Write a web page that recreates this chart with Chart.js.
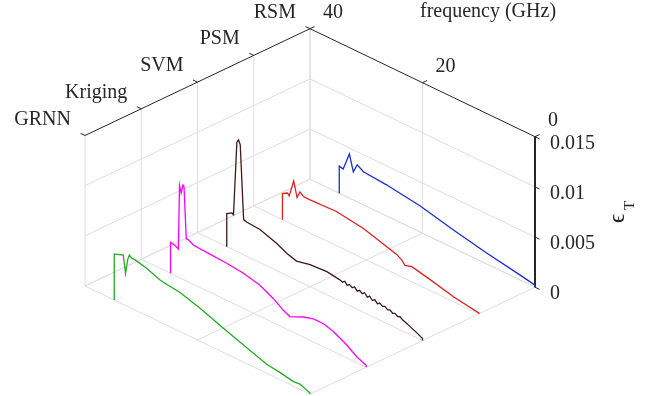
<!DOCTYPE html>
<html>
<head>
<meta charset="utf-8">
<script src="https://cdn.jsdelivr.net/npm/chart.js@4.4.1/dist/chart.umd.min.js"></script>
<style>
  html, body { margin: 0; padding: 0; background: #fff; }
  #wrap { width: 657px; height: 396px; }
</style>
</head>
<body>
<div id="wrap"><canvas id="chart"></canvas></div>
<script>
// categories and ticks
const methods = ['GRNN', 'Kriging', 'SVM', 'PSM', 'RSM'];
const freqTicks = [0, 20, 40];
const errTicks = [0, 0.005, 0.01, 0.015];

// one curve per method, frequency in GHz and error eps_T
const grnnFreq = [34.8, 33.2, 32.8, 32.4, 32.1, 31.7, 31.1, 29.0, 26.7, 25.8, 23.1, 19.6, 17.2, 15.4, 11.3, 7.7, 5.3, 3.0, 1.8, 0];
const grnnErr  = [0.0046, 0.0049, 0.0032, 0.0047, 0.0052, 0.0050, 0.0050, 0.0047, 0.0042, 0.0041, 0.0039, 0.0033, 0.0028, 0.0024, 0.0016, 0.0009, 0.0007, 0.00045, 0.0005, 0.0001];

const krigFreq = [34.8, 34.0, 33.4, 33.2, 32.9, 32.6, 32.4, 32.0, 31.6, 30.7, 27.8, 24.8, 21.9, 18.9, 16.5, 14.7, 13.9, 13.6, 11.2, 9.4, 7.6, 5.9, 3.5, 1.7, 0];
const krigErr  = [0.0031, 0.0030, 0.0028, 0.0092, 0.0085, 0.0094, 0.0093, 0.0042, 0.0042, 0.0039, 0.0038, 0.0037, 0.0035, 0.0031, 0.0024, 0.0017, 0.0015, 0.0014, 0.0020, 0.0023, 0.0023, 0.0020, 0.0013, 0.0006, 0.0002];

const svmFreq = [34.8, 33.9, 33.6, 33.0, 32.7, 32.4, 31.8, 31.2, 28.9, 25.9, 24.1, 22.4, 20.0, 17.0, 14.7, 14.2, 13.8, 13.4, 13.0, 12.5, 12.1, 11.6, 11.2, 10.7, 10.3, 9.8, 9.4, 8.9, 8.5, 8.0, 7.6, 7.1, 6.7, 6.2, 5.8, 5.3, 4.9, 4.4, 4.0, 3.5, 3.0, 2.2, 1.0, 0];
const svmErr  = [0.0033, 0.0036, 0.0035, 0.0109, 0.0112, 0.0108, 0.0035, 0.0034, 0.0033, 0.0027, 0.0022, 0.0019, 0.0022, 0.0023, 0.0021, 0.0020, 0.0022, 0.0019, 0.0021, 0.0019, 0.0021, 0.0018, 0.0020, 0.0018, 0.0020, 0.0017, 0.0019, 0.0016, 0.0018, 0.0015, 0.0017, 0.0015, 0.0016, 0.0014, 0.0015, 0.0013, 0.0014, 0.0012, 0.0013, 0.0011, 0.0010, 0.0008, 0.0005, 0.0002];

const psmFreq = [34.9, 34.0, 33.7, 32.9, 32.3, 31.8, 31.1, 30.0, 25.3, 20.5, 17.6, 14.6, 13.7, 13.1, 11.9, 8.7, 4.5, 0];
const psmErr  = [0.0026, 0.0029, 0.0027, 0.0044, 0.0029, 0.0036, 0.0033, 0.0033, 0.0034, 0.0030, 0.0025, 0.0020, 0.0017, 0.0013, 0.0015, 0.0011, 0.0005, 0.0001];

const rsmFreq = [34.8, 34.1, 33.0, 32.3, 31.6, 30.5, 26.4, 20.4, 14.5, 8.6, 2.7, 0];
const rsmErr  = [0.0027, 0.0026, 0.0044, 0.0028, 0.0037, 0.0033, 0.0031, 0.0026, 0.0018, 0.0011, 0.0005, 0.0002];

const colors = ['#22aa22', '#ff00ff', '#401818', '#e02020', '#1a2ccc'];

// view: waterfall box projected onto the page
const fMax = 40, zTop = 0.015, mMax = methods.length - 1;
const origin = { x: 310, y: 394 };
const stepM = { x: 56.25, y: -26.7 };
const stepF = { x: -5.625, y: -2.7 };
const zPx = 150.5 / zTop;

function project(m, f, z) {
  return { x: origin.x + m * stepM.x + f * stepF.x, y: origin.y + m * stepM.y + f * stepF.y - z * zPx };
}

const datasets = [];
function seg(a, b, color, width, order) {
  datasets.push({ data: [project(...a), project(...b)], showLine: true, borderColor: color, borderWidth: width, pointRadius: 0, order: order });
}

// grid
const grid = '#dedede';
methods.forEach((_, m) => {
  seg([m, fMax, 0], [m, fMax, zTop], grid, 1, 5);
  seg([m, 0, 0], [m, fMax, 0], grid, 1, 5);
});
errTicks.forEach(z => {
  if (z < zTop) {
    seg([0, fMax, z], [mMax, fMax, z], grid, 1, 5);
    seg([mMax, 0, z], [mMax, fMax, z], grid, 1, 5);
  }
});
freqTicks.forEach(f => {
  seg([mMax, f, 0], [mMax, f, zTop], grid, 1, 5);
  seg([0, f, 0], [mMax, f, 0], grid, 1, 5);
});

// axes and tick marks
const axis = '#262626';
seg([0, fMax, zTop], [mMax, fMax, zTop], axis, 1, 4);
seg([mMax, fMax, zTop], [mMax, 0, zTop], axis, 1, 4);
seg([mMax, 0, 0], [mMax, 0, zTop], axis, 2, 4);
methods.forEach((_, m) => seg([m, fMax, zTop], [m, fMax + 0.8, zTop], axis, 1, 4));
freqTicks.forEach(f => seg([mMax, f, zTop], [mMax + 0.08, f, zTop], axis, 1, 4));
errTicks.forEach(z => seg([mMax, 0, z], [mMax, -0.8, z], axis, 1, 4));

// curves, with waterfall curtain edges down to zero
const series = [[grnnFreq, grnnErr], [krigFreq, krigErr], [svmFreq, svmErr], [psmFreq, psmErr], [rsmFreq, rsmErr]];
series.forEach(([fr, er], m) => {
  const pts = [project(m, fr[0], 0)];
  fr.forEach((f, i) => pts.push(project(m, f, er[i])));
  pts.push(project(m, fr[fr.length - 1], 0));
  datasets.push({ data: pts, showLine: true, borderColor: colors[m], borderWidth: 1.3, pointRadius: 0, order: 1 });
});

const font = '"Liberation Serif", "Times New Roman", serif';
const labels = {
  id: 'labels',
  afterDraw(chart) {
    const c = chart.ctx;
    c.save();
    c.fillStyle = axis;
    c.font = '20px ' + font;
    c.textBaseline = 'alphabetic';
    c.textAlign = 'right';
    methods.forEach((name, m) => {
      const p = project(m, fMax, zTop);
      c.fillText(name, p.x - 14, p.y - 11);
    });
    c.textAlign = 'left';
    freqTicks.forEach(f => {
      const p = project(mMax, f, zTop);
      c.fillText(String(f), p.x + 13, p.y - 11);
    });
    errTicks.forEach(z => {
      const p = project(mMax, 0, z);
      c.fillText(String(z), p.x + 15, p.y + 12);
    });
    c.fillText('frequency (GHz)', 420, 17);
    // z label, rotated
    c.translate(624, 223);
    c.rotate(-Math.PI / 2);
    c.font = '23px ' + font;
    c.fillText('\u03f5', 0, 0);
    c.font = '15px ' + font;
    c.fillText('T', 13, 9.5);
    c.restore();
  }
};

new Chart(document.getElementById('chart'), {
  type: 'scatter',
  data: { datasets },
  options: {
    responsive: true,
    maintainAspectRatio: false,
    animation: false,
    layout: { padding: 0 },
    scales: {
      x: { type: 'linear', display: false, min: 0, max: 657 },
      y: { type: 'linear', display: false, min: 0, max: 396, reverse: true }
    },
    plugins: { legend: { display: false }, tooltip: { enabled: false } }
  },
  plugins: [labels]
});
</script>
</body>
</html>
